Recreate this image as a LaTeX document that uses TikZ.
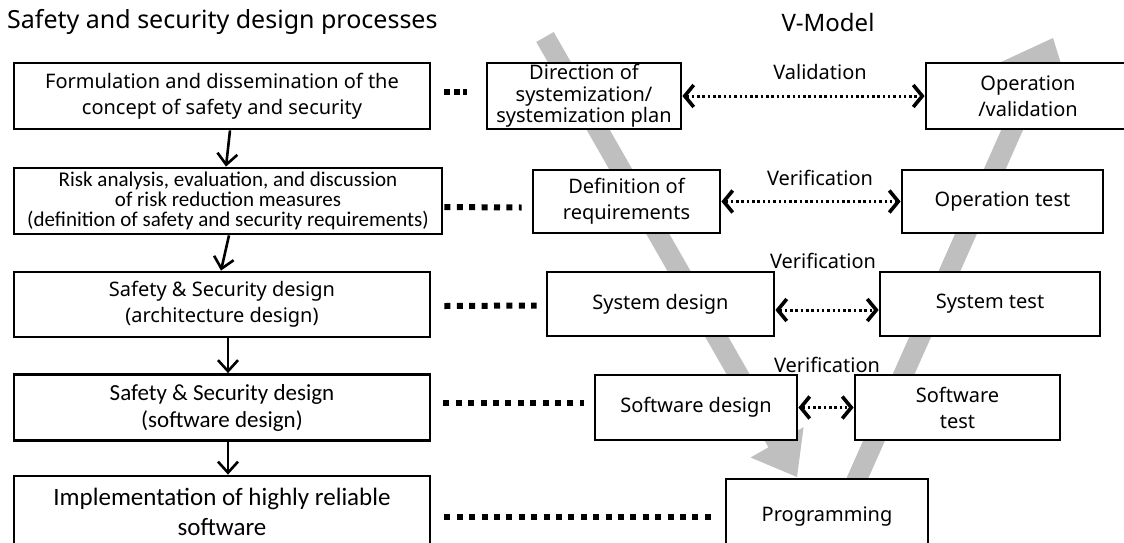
\documentclass[tikz,border=0pt]{standalone}
\usepackage{fontspec}
\setmainfont{Noto Sans}
\newfontfamily\calfont{Carlito}
\usetikzlibrary{arrows.meta}
\begin{document}
\begin{tikzpicture}[x=1pt,y=-1pt,
  box/.style={draw=black,line width=2.8pt,fill=white,align=center,inner sep=0pt},
  mfont/.style={font=\fontsize{20}{26}\selectfont},
  vband/.style={fill=black!25},
  conn/.style={draw=black,line width=2.6pt,-{Straight Barb[length=11pt,width=20pt]}},
  dotlink/.style={draw=black,line width=6pt,dash pattern=on 6pt off 6.4pt},
  dbl/.style={draw=black,line width=3pt,dash pattern=on 2.5pt off 2.8pt,
    {Straight Barb[length=9pt,width=22pt,line width=3.6pt]}-{Straight Barb[length=9pt,width=22pt,line width=3.6pt]}},
  lbl/.style={font=\fontsize{20}{24}\selectfont,inner sep=0pt}
]
\clip (0,0) rectangle (1124,542);
\fill[white] (0,0) rectangle (1124,542);

% V-model: descending and ascending block arrows
\fill[vband] (553.7,32.0) -- (785.8,437.3) -- (803.6,427.1) -- (797,477)
  -- (750.6,457.5) -- (768.4,447.3) -- (536.3,42.0) -- cycle;
\fill[vband] (856.8,504.1) -- (1042.6,86.0) -- (1071.9,98.9) -- (1053,38)
  -- (995.1,64.8) -- (1024.4,77.8) -- (838.6,495.9) -- cycle;

% headings
\node[anchor=west,inner sep=0pt,font=\fontsize{25}{29}\selectfont] (title) at (7,22) {Safety and security design processes};
\node[inner sep=0pt,font=\fontsize{24}{28}\selectfont] (vmodel) at (828,22) {V-Model};

% safety and security design processes
\node[box,mfont,minimum width=416pt,minimum height=66pt] (A) at (222,96)
  {Formulation and dissemination of the\\concept of safety and security};
\node[box,font=\calfont\fontsize{21}{20}\selectfont,minimum width=428pt,minimum height=66pt] (B) at (228,201)
  {Risk analysis, evaluation, and discussion\\of risk reduction measures\\(definition of safety and security requirements)};
\node[box,mfont,minimum width=416pt,minimum height=65pt] (C) at (222,304.5)
  {Safety \& Security design\\(architecture design)};
\node[box,font=\calfont\fontsize{23}{27}\selectfont,minimum width=416pt,minimum height=66pt] (D) at (222,407.5)
  {Safety \& Security design\\(software design)};
\node[box,font=\calfont\fontsize{25}{30}\selectfont,minimum width=416pt,minimum height=72pt] (E) at (222,512)
  {Implementation of highly reliable\\software};

% V-model stages
\node[box,font=\fontsize{20}{21.5}\selectfont,minimum width=194pt,minimum height=66pt] (Dir) at (584,96)
  {Direction of\\systemization/\\systemization plan};
\node[box,mfont,minimum width=204pt,minimum height=66pt] (Op) at (1028,96)
  {Operation\\/validation};
\node[box,mfont,minimum width=187pt,minimum height=63pt] (Def) at (626.5,201.5)
  {Definition of\\requirements};
\node[box,mfont,minimum width=201pt,minimum height=63pt] (OpT) at (1002.5,201.5)
  {Operation test};
\node[box,mfont,minimum width=227pt,minimum height=64pt] (SysD) at (660.5,304)
  {System design};
\node[box,mfont,minimum width=220pt,minimum height=64pt] (SysT) at (990,304)
  {System test};
\node[box,mfont,minimum width=202pt,minimum height=65pt] (SwD) at (696,407.5)
  {Software design};
\node[box,mfont,minimum width=205pt,minimum height=65pt] (SwT) at (957.5,407.5)
  {Software\\test};
\node[box,mfont,minimum width=202pt,minimum height=76pt] (Prog) at (827,517)
  {Programming};

% validation / verification labels
\node[lbl] (lval) at (820,72) {Validation};
\node[lbl] (lver1) at (820,178) {Verification};
\node[lbl] (lver2) at (823,261) {Verification};
\node[lbl] (lver3) at (827,365) {Verification};

% process flow
\draw[conn] ([xshift=8pt]A.south) -- ([xshift=-2pt]B.north);
\draw[conn] ([xshift=1pt]B.south) -- ([xshift=-1pt]C.north);
\draw[conn] ([xshift=6pt]C.south) -- ([xshift=6pt]D.north);
\draw[conn] ([xshift=6pt]D.south) -- ([xshift=6pt]E.north);

% correspondence between the two columns
\draw[dotlink,dash pattern=on 6pt off 3.5pt] ([xshift=13pt,yshift=4pt]A.east) -- ([xshift=-19pt,yshift=4pt]Dir.west);
\draw[dotlink] ([xshift=1pt,yshift=-6pt]B.east) -- ([xshift=-10pt,yshift=-6pt]Def.west);
\draw[dotlink] ([xshift=13pt,yshift=-1.5pt]C.east) -- ([xshift=-9pt,yshift=-1.5pt]SysD.west);
\draw[dotlink] ([xshift=12pt,yshift=5pt]D.east) -- ([xshift=-10pt,yshift=5pt]SwD.west);
\draw[dotlink] ([xshift=13pt]E.east |- Prog.west) -- ([xshift=-14pt]Prog.west);

% validation and verification links
\draw[dbl] (Dir.east) -- (Op.west);
\draw[dbl] (Def.east) -- (OpT.west);
\draw[dbl] ([yshift=-6pt]SysD.east) -- ([yshift=-6pt]SysT.west);
\draw[dbl] (SwD.east) -- (SwT.west);
\end{tikzpicture}
\end{document}
